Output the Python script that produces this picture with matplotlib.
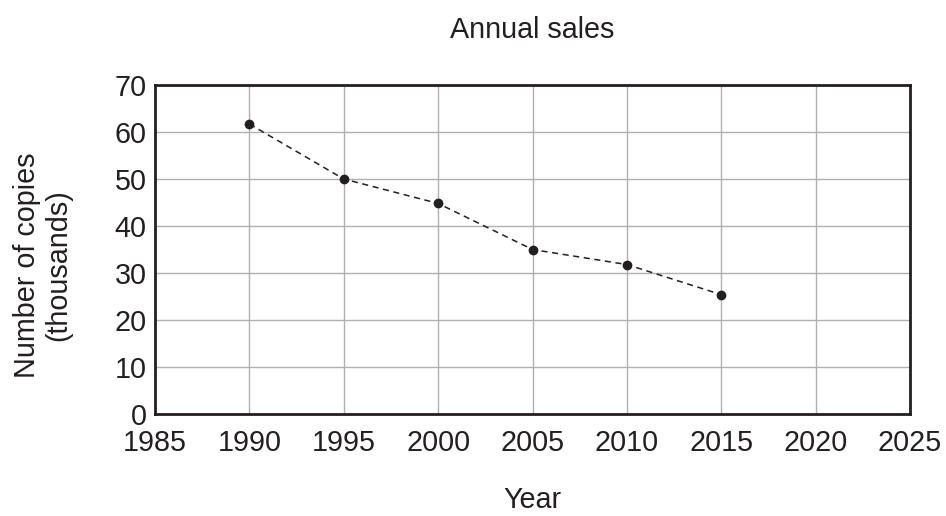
import matplotlib
matplotlib.use("Agg")
import matplotlib.pyplot as plt

years = [1990, 1995, 2000, 2005, 2010, 2015]
copies = [61.7, 50.0, 44.8, 35.0, 31.8, 25.4]

x_ticks = [1985, 1990, 1995, 2000, 2005, 2010, 2015, 2020, 2025]
y_ticks = [0, 10, 20, 30, 40, 50, 60, 70]

plt.rcParams["font.family"] = ["Liberation Sans", "DejaVu Sans"]
text_color = "#231f20"
fs = 20.7

fig = plt.figure(figsize=(9.46, 5.16), dpi=100)
ax = fig.add_axes([155 / 946, 1 - 414 / 516, 755 / 946, 329 / 516])

ax.plot(years, copies, linestyle=(0, (4, 3)), color=text_color, linewidth=1.1,
        marker="o", markersize=6, markerfacecolor=text_color, markeredgecolor=text_color)

ax.set_xlim(1985, 2025)
ax.set_ylim(0, 70)
ax.set_xticks(x_ticks)
ax.set_yticks(y_ticks)
ax.tick_params(length=0, labelsize=fs, colors=text_color)
ax.tick_params(axis="x", pad=11)
ax.tick_params(axis="y", pad=6)
ax.grid(True, color="#b0b0b0", linewidth=1.0)
ax.set_axisbelow(True)
for spine in ax.spines.values():
    spine.set_color(text_color)
    spine.set_linewidth(2.0)

ax.set_title("Annual sales", fontsize=fs, color=text_color, pad=34)
ax.set_xlabel("Year", fontsize=fs, color=text_color, labelpad=21)
ax.set_ylabel("Number of copies\n(thousands)", fontsize=fs, color=text_color,
              linespacing=1.15)
ax.yaxis.set_label_coords(-0.110, 0.451)

fig.savefig("out.png", dpi=100)
